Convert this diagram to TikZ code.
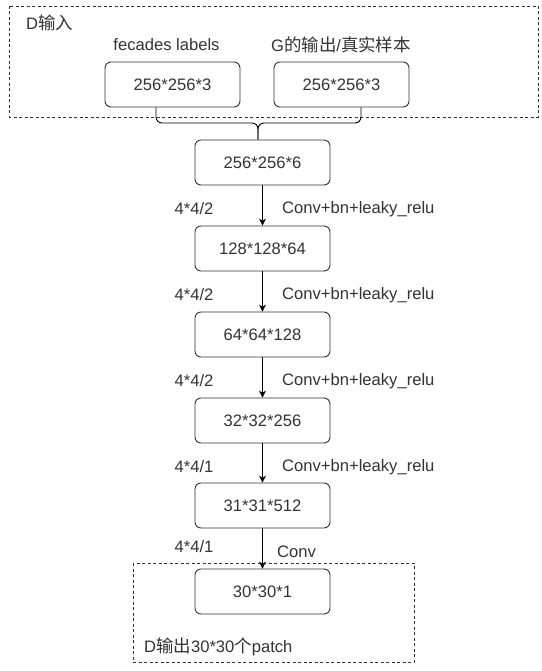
\documentclass[tikz,border=0pt]{standalone}
\usepackage{fontspec}
\setmainfont{Liberation Sans}
\newfontfamily\cjk{Noto Sans CJK SC}[Scale=1.05]
\usetikzlibrary{arrows.meta}
\definecolor{ink}{HTML}{333333}
\tikzset{
  blk/.style={draw=ink, line width=0.9pt, rounded corners=6pt, minimum width=135pt, minimum height=45pt, inner sep=0pt, font=\fontsize{16.6}{18}\selectfont, text=ink},
  lbl/.style={font=\fontsize{16.6}{18}\selectfont, text=ink, inner sep=0pt},
  grp/.style={draw=ink, line width=0.8pt, dash pattern=on 3pt off 2.5pt},
  conn/.style={draw=black, line width=0.9pt},
  arr/.style={conn, -{Stealth[length=7pt,width=7pt]}},
}
\begin{document}
\begin{tikzpicture}[x=1pt,y=-1pt]
\useasboundingbox (0,0) rectangle (541,671);
% groups
\draw[grp] (9,6) rectangle (538,117);
\draw[grp] (133,563) rectangle (414,662);
\node[lbl, anchor=west] (din) at (26,23) {D{\cjk 输入}};
\node[lbl, anchor=west] (dout) at (144,647) {D{\cjk 输出}30*30{\cjk 个}patch};
% top inputs
\node[lbl] (t1) at (166.5,45) {fecades labels};
\node[lbl] (t2) at (341,45) {G{\cjk 的输出}/{\cjk 真实样本}};
\node[blk] (a) at (172.5,84.5) {256*256*3};
\node[blk] (b) at (341.5,84.5) {256*256*3};
% chain
\node[blk] (c0) at (262.5,162.5) {256*256*6};
\node[blk] (c1) at (262.5,248.5) {128*128*64};
\node[blk] (c2) at (262.5,334.5) {64*64*128};
\node[blk] (c3) at (262.5,420.5) {32*32*256};
\node[blk] (c4) at (262.5,505.5) {31*31*512};
\node[blk] (c5) at (262.5,591.5) {30*30*1};
% merge connectors
\coordinate (j) at (258,123);
\draw[conn, rounded corners=6pt] (a.south -| 156,0) -- (156,123) -- (j) -- (c0.north -| j);
\draw[conn, rounded corners=6pt] (b.south -| 361,0) -- (361,123) -- (j) -- (c0.north -| j);
% arrows
\draw[arr] (c0) -- (c1);
\draw[arr] (c1) -- (c2);
\draw[arr] (c2) -- (c3);
\draw[arr] (c3) -- (c4);
\draw[arr] (c4) -- (c5);
% arrow labels
\node[lbl] (k1) at (194,209) {4*4/2};
\node[lbl] (k2) at (194,295) {4*4/2};
\node[lbl] (k3) at (194,381) {4*4/2};
\node[lbl] (k4) at (194,467) {4*4/1};
\node[lbl] (k5) at (194,547) {4*4/1};
\node[lbl, anchor=west] (o1) at (282,209) {Conv+bn+leaky\_relu};
\node[lbl, anchor=west] (o2) at (282,295) {Conv+bn+leaky\_relu};
\node[lbl, anchor=west] (o3) at (282,381) {Conv+bn+leaky\_relu};
\node[lbl, anchor=west] (o4) at (282,467) {Conv+bn+leaky\_relu};
\node[lbl, anchor=west] (o5) at (277,552) {Conv};
\end{tikzpicture}
\end{document}
